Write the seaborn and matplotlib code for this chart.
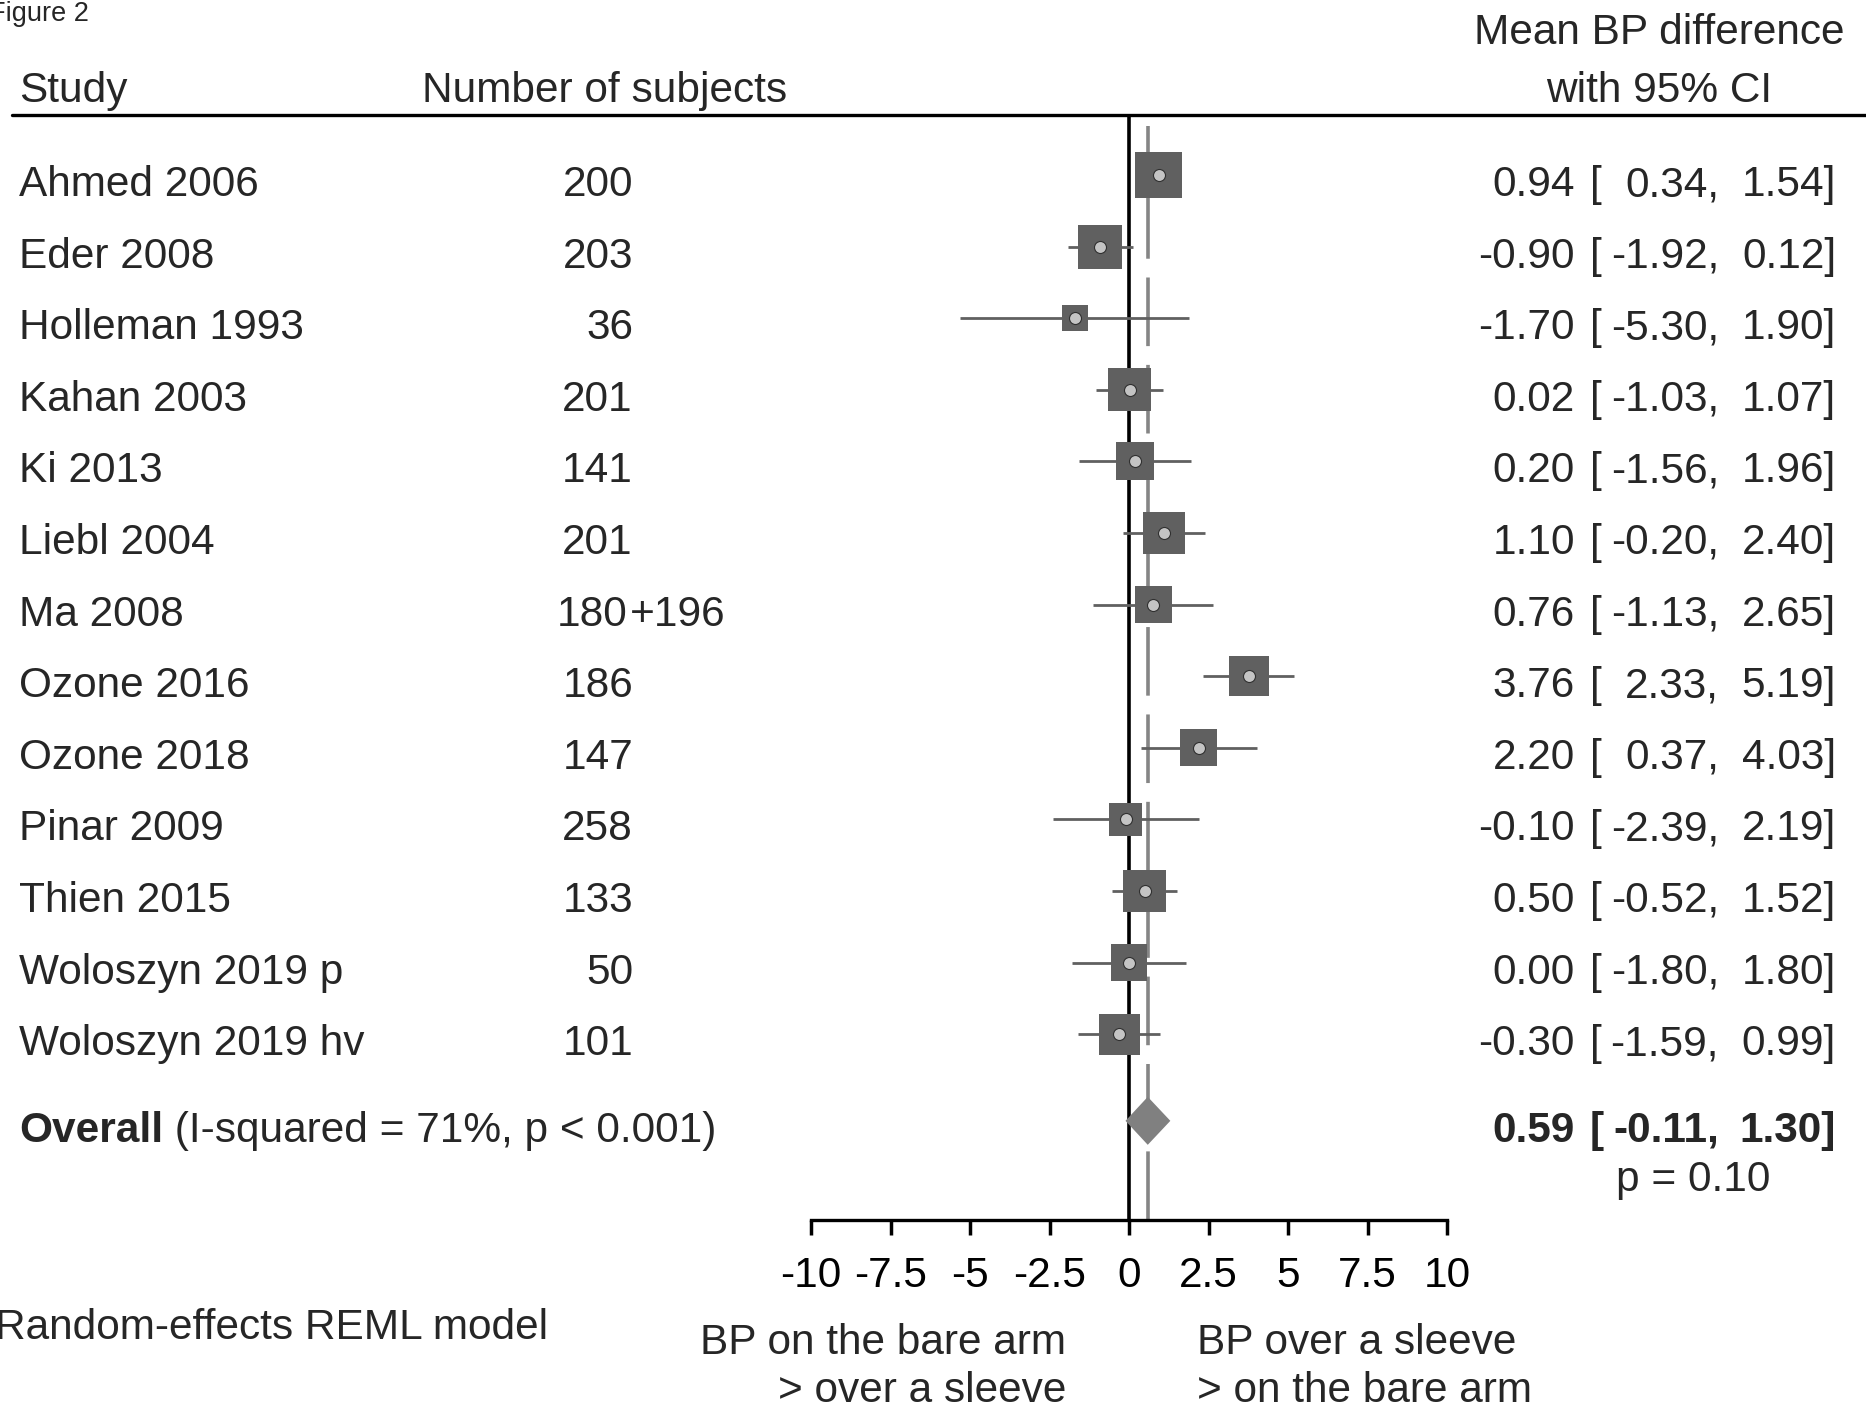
import numpy as np
import pandas as pd
import seaborn as sns
from matplotlib import pyplot as plt
from matplotlib import transforms
from matplotlib.lines import Line2D

# data -->
studies = ["Ahmed 2006", "Eder 2008", "Holleman 1993", "Kahan 2003", "Ki 2013",
           "Liebl 2004", "Ma 2008", "Ozone 2016", "Ozone 2018", "Pinar 2009",
           "Thien 2015", "Woloszyn 2019 p", "Woloszyn 2019 hv"]
subjects = ["200", "203", "36", "201", "141", "201", "180+196", "186", "147",
            "258", "133", "50", "101"]
mean_diff = [0.94, -0.90, -1.70, 0.02, 0.20, 1.10, 0.76, 3.76, 2.20, -0.10, 0.50, 0.00, -0.30]
ci_low = [0.34, -1.92, -5.30, -1.03, -1.56, -0.20, -1.13, 2.33, 0.37, -2.39, -0.52, -1.80, -1.59]
ci_high = [1.54, 0.12, 1.90, 1.07, 1.96, 2.40, 2.65, 5.19, 4.03, 2.19, 1.52, 1.80, 0.99]
weights = [11.0, 9.6, 3.4, 9.2, 7.2, 8.4, 6.8, 8.0, 6.8, 5.4, 9.2, 6.8, 8.4]

overall_est = 0.59
overall_low = -0.11
overall_high = 1.30
overall_het = " (I-squared = 71%, p < 0.001)"
overall_p = "p = 0.10"

xticks = [-10, -7.5, -5, -2.5, 0, 2.5, 5, 7.5, 10]
xtick_labels = ["-10", "-7.5", "-5", "-2.5", "0", "2.5", "5", "7.5", "10"]

df = pd.DataFrame({"study": studies, "n": subjects, "est": mean_diff,
                   "lo": ci_low, "hi": ci_high, "w": weights})
df["row"] = np.arange(len(df))
overall_row = 13.21

# style -->
sns.set_theme(style="white")
plt.rcParams["font.family"] = ["Liberation Sans", "DejaVu Sans"]
FS = 30.5
SQ_COL = "#606060"

W, H = 1866, 1407
fig = plt.figure(figsize=(W / 100, H / 100), dpi=100)
fig.patch.set_facecolor("white")

# forest panel: x from -10 to 10, y in rows (top row 0)
ax = fig.add_axes([811 / W, 1 - 1220 / H, 636 / W, 1105 / H])
ax.set_facecolor("none")
ax.set_xlim(-10, 10)
ax.set_ylim(14.595, -0.838)

# reference lines
ax.axvline(0, color="black", lw=2.6, zorder=1)
ax.axvline(overall_est, ymax=0.99, color="#858585", lw=2.6, dashes=(19.0, 5.2), zorder=1.5)

# confidence intervals
ax.hlines(df["row"], df["lo"], df["hi"], color=SQ_COL, lw=2.0, zorder=2)

# weight squares (area ~ weight)
side_pt = 14.17 * np.sqrt(df["w"]) * 0.72
sns.scatterplot(x=df["est"], y=df["row"], marker="s", s=side_pt ** 2, color=SQ_COL,
                linewidth=0, ax=ax, zorder=3, legend=False)
# point estimates
sns.scatterplot(x=df["est"], y=df["row"], marker="o", s=(12 * 0.72) ** 2, color="#c4c4c4",
                edgecolor="#303030", linewidth=0.8, ax=ax, zorder=4, legend=False)

# overall diamond
h = 0.335
ax.fill([overall_low, overall_est, overall_high, overall_est],
        [overall_row, overall_row - h, overall_row, overall_row + h],
        color="#808080", lw=0, zorder=3)

# axis
sns.despine(ax=ax, left=True)
ax.spines["bottom"].set_linewidth(2.4)
ax.spines["bottom"].set_color("black")
ax.set_yticks([])
ax.set_xticks(xticks)
ax.set_xticklabels(xtick_labels)
ax.tick_params(axis="x", direction="out", length=11, width=2.5, pad=15,
               labelsize=FS, colors="black", bottom=True)
ax.set_xlabel("")
ax.set_ylabel("")

# text columns -->
tr = transforms.blended_transform_factory(fig.transFigure, ax.transData)
base = 21 / 71.6  # baseline offset below row centre
X_EST, X_BR, X_LO, X_HI = 1575, 1590, 1719, 1836

for _, r in df.iterrows():
    y = r["row"] + base
    ax.text(19 / W, y, r["study"], transform=tr, fontsize=FS, va="baseline", ha="left")
    n = r["n"]
    if "+" in n:
        a, b = n.split("+")
        ax.text(628 / W, y, a, transform=tr, fontsize=FS, va="baseline", ha="right")
        ax.text(630 / W, y, "+" + b, transform=tr, fontsize=FS, va="baseline", ha="left")
    else:
        ax.text(633 / W, y, n, transform=tr, fontsize=FS, va="baseline", ha="right")
    ax.text(X_EST / W, y, f"{r['est']:.2f}", transform=tr, fontsize=FS, va="baseline", ha="right")
    ax.text(X_BR / W, y, "[", transform=tr, fontsize=FS, va="baseline", ha="left")
    ax.text(X_LO / W, y, f"{r['lo']:.2f},", transform=tr, fontsize=FS, va="baseline", ha="right")
    ax.text(X_HI / W, y, f"{r['hi']:.2f}]", transform=tr, fontsize=FS, va="baseline", ha="right")

# overall row
yo = overall_row + base
t_ov = ax.text(19 / W, yo, "Overall", transform=tr, fontsize=FS, fontweight="bold",
               va="baseline", ha="left")
ax.annotate(overall_het, xy=(1, 0), xycoords=t_ov, fontsize=FS, va="bottom", ha="left")
for xx, s, ha in [(X_EST, f"{overall_est:.2f}", "right"), (X_BR, "[", "left"),
                  (X_LO, f"{overall_low:.2f},", "right"), (X_HI, f"{overall_high:.2f}]", "right")]:
    ax.text(xx / W, yo, s, transform=tr, fontsize=FS, fontweight="bold", va="baseline", ha=ha)
fig.text(1693 / W, 1 - 1191 / H, overall_p, fontsize=FS, ha="center", va="baseline")

# header -->
fig.text(89 / W, 1 - 1 / H, "Figure 2", fontsize=19.5, ha="right", va="top")
fig.text(19 / W, 1 - 102 / H, "Study", fontsize=FS, ha="left", va="baseline")
fig.text(422 / W, 1 - 102 / H, "Number of subjects", fontsize=FS, ha="left", va="baseline")
fig.text(1659 / W, 1 - 44 / H, "Mean BP difference", fontsize=FS, ha="center", va="baseline")
fig.text(1659 / W, 1 - 102 / H, "with 95% CI", fontsize=FS, ha="center", va="baseline")
fig.add_artist(Line2D([12 / W, 1], [1 - 115 / H, 1 - 115 / H], transform=fig.transFigure,
                      color="black", lw=2.4))

# footer -->
fig.text(-5 / W, 1 - 1339 / H, "Random-effects REML model", fontsize=FS, ha="left", va="baseline")
fig.text(1066 / W, 1 - 1354 / H, "BP on the bare arm", fontsize=FS, ha="right", va="baseline")
fig.text(1066 / W, 1 - 1402 / H, "> over a sleeve", fontsize=FS, ha="right", va="baseline")
fig.text(1197 / W, 1 - 1354 / H, "BP over a sleeve", fontsize=FS, ha="left", va="baseline")
fig.text(1197 / W, 1 - 1402 / H, "> on the bare arm", fontsize=FS, ha="left", va="baseline")

fig.savefig("out.png", dpi=100, facecolor="white")
